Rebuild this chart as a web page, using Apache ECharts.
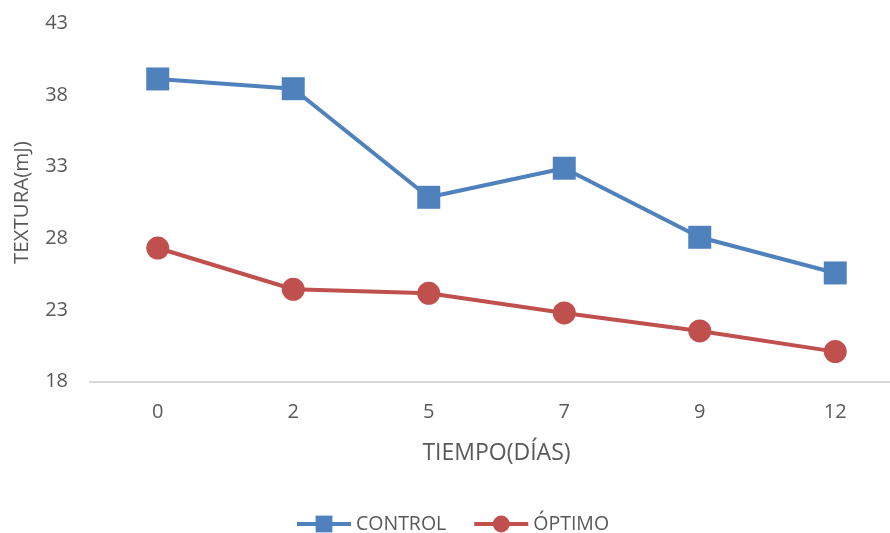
<!DOCTYPE html>
<html>
<head>
<meta charset="utf-8">
<script src="https://cdn.jsdelivr.net/npm/echarts@6/dist/echarts.min.js"></script>
<style>
  html, body { margin: 0; padding: 0; background: #fff; }
  #chart { width: 890px; height: 533px; }
</style>
</head>
<body>
<div id="chart"></div>
<script>
// Storage days on the horizontal axis
const dias = ['0', '2', '5', '7', '9', '12'];
// Texture (mJ) for each treatment
const control = [39.13, 38.45, 30.87, 32.90, 28.08, 25.59];
const optimo = [27.33, 24.45, 24.17, 22.80, 21.54, 20.10];
// Value axis range
const yMin = 18, yMax = 43, yStep = 5;

const FONT = '"Open Sans", sans-serif';
const TXT = '#595959';

const chart = echarts.init(document.getElementById('chart'), null, { renderer: 'canvas' });
chart.setOption({
  backgroundColor: '#ffffff',
  animation: false,
  grid: {
    left: 90, right: -13, top: 23.5, bottom: 151.3,
    containLabel: false,
    outerBoundsMode: 'none'
  },
  legend: {
    top: 509,
    left: 290,
    itemWidth: 54,
    itemHeight: 21,
    itemGap: 26,
    lineStyle: { width: 4 },
    textStyle: { color: TXT, fontFamily: FONT, fontSize: 19.5, padding: [0, 0, 0, 0] },
    data: ['CONTROL', 'ÓPTIMO']
  },
  xAxis: {
    type: 'category',
    data: dias,
    boundaryGap: true,
    name: 'TIEMPO(DÍAS)',
    nameLocation: 'middle',
    nameGap: 60,
    nameTextStyle: { color: TXT, fontFamily: FONT, fontSize: 23 },
    axisLine: { lineStyle: { color: '#d9d9d9', width: 2 } },
    axisTick: { show: false },
    axisLabel: { color: TXT, fontFamily: FONT, fontSize: 20, margin: 21 },
    splitLine: { show: false }
  },
  yAxis: {
    type: 'value',
    min: yMin,
    max: yMax,
    interval: yStep,
    name: 'TEXTURA(mJ)',
    nameLocation: 'middle',
    nameGap: 57,
    nameTextStyle: { color: TXT, fontFamily: FONT, fontSize: 20.5 },
    axisLine: { show: false },
    axisTick: { show: false },
    axisLabel: { color: TXT, fontFamily: FONT, fontSize: 20, margin: 22 },
    splitLine: { show: false }
  },
  series: [
    {
      name: 'CONTROL',
      type: 'line',
      data: control,
      symbol: 'rect',
      symbolSize: 23,
      lineStyle: { color: '#4F81BD', width: 4 },
      itemStyle: { color: '#4F81BD' },
      z: 3
    },
    {
      name: 'ÓPTIMO',
      type: 'line',
      data: optimo,
      symbol: 'circle',
      symbolSize: 23,
      lineStyle: { color: '#C0504D', width: 4 },
      itemStyle: { color: '#C0504D' },
      z: 3
    }
  ]
});
</script>
</body>
</html>
